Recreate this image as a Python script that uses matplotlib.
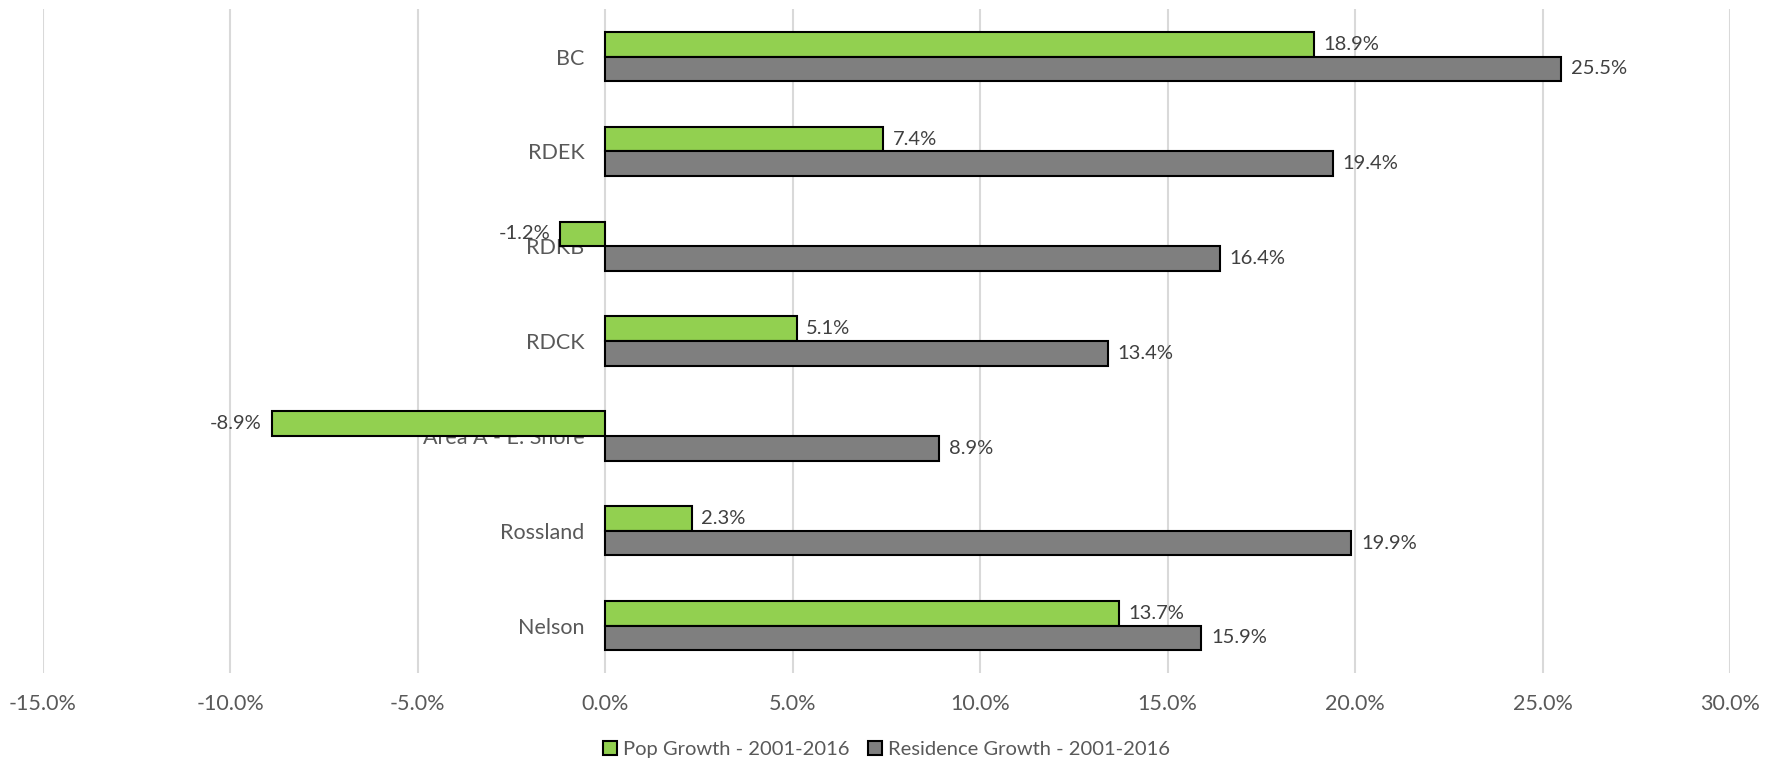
import matplotlib.pyplot as plt
import numpy as np

# Growth by area, 2001-2016 (%)
areas = ["BC", "RDEK", "RDKB", "RDCK", "Area A - E. Shore", "Rossland", "Nelson"]
pop_growth = [18.9, 7.4, -1.2, 5.1, -8.9, 2.3, 13.7]
residence_growth = [25.5, 19.4, 16.4, 13.4, 8.9, 19.9, 15.9]
x_ticks = [-15, -10, -5, 0, 5, 10, 15, 20, 25, 30]

GREEN = "#92D050"
GREY = "#7F7F7F"
TEXT = "#595959"

plt.rcParams["font.family"] = ["Lato", "DejaVu Sans"]

fig = plt.figure(figsize=(17.68, 7.64), dpi=100)
ax = fig.add_axes([0.0243, 0.119, 0.9542, 0.869])

y = np.arange(len(areas))
h = 0.26
pop_bars = ax.barh(y - h / 2, pop_growth, height=h, color=GREEN,
                   edgecolor="black", linewidth=1.5, label="Pop Growth - 2001-2016", zorder=3)
res_bars = ax.barh(y + h / 2, residence_growth, height=h, color=GREY,
                   edgecolor="black", linewidth=1.5, label="Residence Growth - 2001-2016", zorder=3)

for bars in (pop_bars, res_bars):
    ax.bar_label(bars, fmt="%.1f%%", padding=7, fontsize=14.5, color="#404040")

ax.set_xlim(-15, 30)
ax.set_ylim(len(areas) - 0.5, -0.5)
ax.set_xticks(x_ticks)
ax.set_xticklabels([f"{t:.1f}%" for t in x_ticks])
ax.xaxis.grid(True, color="#D9D9D9", linewidth=1.5, zorder=0)

# category labels sit next to the zero line
ax.spines["left"].set_position(("data", 0))
for side in ("left", "right", "top", "bottom"):
    ax.spines[side].set_color("none")
ax.set_yticks(y)
ax.set_yticklabels(areas)
ax.tick_params(axis="y", length=0, pad=15, labelsize=15.5, labelcolor=TEXT)
ax.tick_params(axis="x", length=0, pad=15, labelsize=15.5, labelcolor=TEXT)

ax.legend(loc="upper center", bbox_to_anchor=(0.5, -0.075), ncol=2, frameon=False,
          fontsize=14.5, labelcolor=TEXT, handlelength=0.7, handleheight=0.7,
          handletextpad=0.3, columnspacing=0.9)

fig.savefig("out.png", dpi=100)
